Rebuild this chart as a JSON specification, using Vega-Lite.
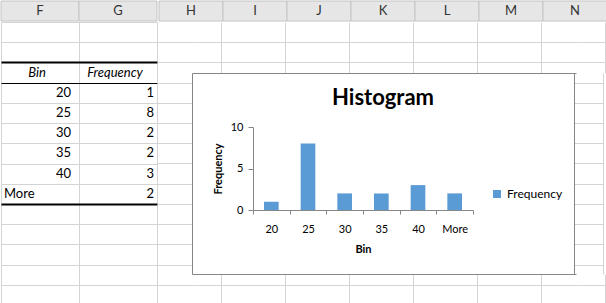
{
  "$schema": "https://vega.github.io/schema/vega-lite/v6.json",
  "padding": 0,
  "background": "white",
  "spacing": 0,
  "datasets": {
    "hist": [
      {"bin": "20", "frequency": 1},
      {"bin": "25", "frequency": 8},
      {"bin": "30", "frequency": 2},
      {"bin": "35", "frequency": 2},
      {"bin": "40", "frequency": 3},
      {"bin": "More", "frequency": 2}
    ],
    "colsLeft": [{"col": "F"}, {"col": "G"}],
    "colsRight": [{"col": "H"}, {"col": "I"}, {"col": "J"}, {"col": "K"}, {"col": "L"}, {"col": "M"}, {"col": "N"}],
    "blank": [{}]
  },
  "config": {"view": {"stroke": null}, "font": "Lato"},
  "vconcat": [
    {
      "spacing": 0,
      "hconcat": [
        {
          "width": 156, "height": 20,
          "data": {"name": "colsLeft"},
          "layer": [
            {"mark": {"type": "rect", "fill": "#e6e6e6", "stroke": "#c4c4c4", "strokeWidth": 1},
             "encoding": {"x": {"field": "col", "type": "nominal", "scale": {"paddingInner": 0, "paddingOuter": 0}, "axis": null}}},
            {"mark": {"type": "text", "fontSize": 13, "color": "#333333"},
             "encoding": {"x": {"field": "col", "type": "nominal", "axis": null}, "text": {"field": "col"}}}
          ]
        },
        {
          "width": 448, "height": 20,
          "data": {"name": "colsRight"},
          "layer": [
            {"mark": {"type": "rect", "fill": "#e6e6e6", "stroke": "#c4c4c4", "strokeWidth": 1},
             "encoding": {"x": {"field": "col", "type": "nominal", "sort": null, "scale": {"paddingInner": 0, "paddingOuter": 0}, "axis": null}}},
            {"mark": {"type": "text", "fontSize": 13, "color": "#333333"},
             "encoding": {"x": {"field": "col", "type": "nominal", "sort": null, "axis": null}, "text": {"field": "col"}}}
          ]
        }
      ]
    },
    {
      "spacing": 0,
      "hconcat": [
        {
          "width": 156, "height": 283,
          "data": {"name": "hist"},
          "encoding": {
            "y": {"field": "bin", "type": "nominal",
                  "scale": {"domain": ["r1", "r2", "hdr", "20", "25", "30", "35", "40", "More", "r10", "r11", "r12", "r13", "r14"], "paddingInner": 0, "paddingOuter": 0},
                  "axis": {"labels": false, "ticks": false, "domain": false, "title": null, "grid": true, "tickBand": "extent",
                           "gridColor": {"condition": {"test": "datum.value === 'r2' || datum.value === 'hdr' || datum.value === 'More'", "value": "black"}, "value": "#d4d4d4"},
                           "gridWidth": {"condition": {"test": "datum.value === 'r2' || datum.value === 'More'", "value": 2}, "value": 1}}}
          },
          "layer": [
            {"transform": [{"filter": "datum.bin !== 'More'"}],
             "mark": {"type": "text", "align": "right", "dx": -8, "fontSize": 13, "color": "black"},
             "encoding": {"x": {"datum": "F", "type": "nominal", "bandPosition": 1,
                                "scale": {"domain": ["F", "G"], "paddingInner": 0, "paddingOuter": 0},
                                "axis": {"labels": false, "ticks": false, "domain": false, "title": null, "grid": true, "tickBand": "extent", "gridColor": "#d4d4d4"}},
                          "text": {"field": "bin"}}},
            {"transform": [{"filter": "datum.bin === 'More'"}],
             "mark": {"type": "text", "align": "left", "dx": 3, "fontSize": 13, "color": "black"},
             "encoding": {"x": {"datum": "F", "type": "nominal", "bandPosition": 0,
                                "axis": {"labels": false, "ticks": false, "domain": false, "title": null, "grid": true, "tickBand": "extent", "gridColor": "#d4d4d4"}},
                          "text": {"field": "bin"}}},
            {"mark": {"type": "text", "align": "right", "dx": -3, "fontSize": 13, "color": "black"},
             "encoding": {"x": {"datum": "G", "type": "nominal", "bandPosition": 1,
                                "axis": {"labels": false, "ticks": false, "domain": false, "title": null, "grid": true, "tickBand": "extent", "gridColor": "#d4d4d4"}},
                          "text": {"field": "frequency"}}},
            {"transform": [{"aggregate": [{"op": "count", "as": "n"}]}],
             "mark": {"type": "text", "text": "Bin", "fontStyle": "italic", "fontSize": 13, "color": "black", "dx": -3},
             "encoding": {"x": {"datum": "F", "type": "nominal",
                                "axis": {"labels": false, "ticks": false, "domain": false, "title": null, "grid": true, "tickBand": "extent", "gridColor": "#d4d4d4"}},
                          "y": {"datum": "hdr", "type": "nominal"}}},
            {"transform": [{"aggregate": [{"op": "count", "as": "n"}]}],
             "mark": {"type": "text", "text": "Frequency", "fontStyle": "italic", "fontSize": 13, "color": "black", "dx": -3},
             "encoding": {"x": {"datum": "G", "type": "nominal",
                                "axis": {"labels": false, "ticks": false, "domain": false, "title": null, "grid": true, "tickBand": "extent", "gridColor": "#d4d4d4"}},
                          "y": {"datum": "hdr", "type": "nominal"}}}
          ]
        },
        {
          "spacing": 0,
          "vconcat": [
            {
              "spacing": 0,
              "hconcat": [
                {"width": 35, "height": 51, "data": {"name": "blank"}, "mark": {"type": "point", "size": 0, "opacity": 0},
                 "encoding": {
                   "x": {"datum": 0.3, "type": "quantitative", "scale": {"domain": [0, 0.547], "nice": false, "zero": false}, "axis": null},
                   "y": {"datum": 1.2, "type": "quantitative", "scale": {"domain": [0, 2.523], "nice": false, "zero": false, "reverse": true},
                         "axis": {"values": [1, 2], "grid": true, "gridColor": "#d4d4d4", "labels": false, "ticks": false, "domain": false, "title": null}}}},
                {"width": 384, "height": 51, "data": {"name": "blank"}, "mark": {"type": "point", "size": 0, "opacity": 0},
                 "encoding": {
                   "x": {"datum": 3, "type": "quantitative", "scale": {"domain": [0.547, 6.547], "nice": false, "zero": false},
                         "axis": {"orient": "bottom", "values": [1, 2, 3, 4, 5, 6], "grid": true, "gridColor": "#d4d4d4", "labels": false, "ticks": false, "domain": true, "domainColor": "#868686", "title": null}},
                   "y": {"datum": 1.2, "type": "quantitative", "scale": {"domain": [0, 2.523], "nice": false, "zero": false, "reverse": true},
                         "axis": {"values": [1, 2], "grid": true, "gridColor": "#d4d4d4", "labels": false, "ticks": false, "domain": false, "title": null}}}},
                {"width": 29, "height": 51, "data": {"name": "blank"}, "mark": {"type": "point", "size": 0, "opacity": 0},
                 "encoding": {
                   "x": {"datum": 6.8, "type": "quantitative", "scale": {"domain": [6.547, 7], "nice": false, "zero": false},
                         "axis": {"values": [7], "grid": true, "gridColor": "#d4d4d4", "labels": false, "ticks": false, "domain": false, "title": null}},
                   "y": {"datum": 1.2, "type": "quantitative", "scale": {"domain": [0, 2.523], "nice": false, "zero": false, "reverse": true},
                         "axis": {"values": [1, 2], "grid": true, "gridColor": "#d4d4d4", "labels": false, "ticks": false, "domain": false, "title": null}}}}
              ]
            },
            {
              "spacing": 11,
              "hconcat": [
                {"width": 35, "height": 201, "data": {"name": "blank"}, "mark": {"type": "point", "size": 0, "opacity": 0},
                 "encoding": {
                   "x": {"datum": 0.3, "type": "quantitative", "scale": {"domain": [0, 0.547], "nice": false, "zero": false}, "axis": null},
                   "y": {"datum": 7, "type": "quantitative", "scale": {"domain": [2.523, 12.467], "nice": false, "zero": false, "reverse": true},
                         "axis": {"orient": "right", "values": [3, 4, 5, 6, 7, 8, 9, 10, 11, 12], "grid": true, "gridColor": "#d4d4d4", "labels": false, "ticks": true, "tickSize": 9, "tickOpacity": 0, "domain": true, "domainColor": "#868686", "title": null}}}},
                {
                  "spacing": 0,
                  "resolve": {"scale": {"color": "independent"}, "legend": {"color": "independent"}},
                  "vconcat": [
                    {"width": 10, "height": 14, "data": {"name": "blank"}, "mark": {"type": "text", "text": ""}},
                    {
                      "width": 220, "height": 83,
                      "data": {"name": "hist"},
                      "title": {"text": "Histogram", "fontSize": 22, "fontWeight": "bold", "font": "Lato", "anchor": "middle", "frame": "group", "dx": 20, "offset": 11, "color": "black"},
                      "mark": {"type": "bar", "width": {"band": 0.4}},
                      "encoding": {
                        "x": {"field": "bin", "type": "nominal", "sort": null,
                              "scale": {"paddingInner": 0, "paddingOuter": 0},
                              "axis": {"title": "Bin", "labelAngle": 0, "tickBand": "extent", "tickSize": 4, "tickColor": "#868686", "domainColor": "#868686",
                                       "labelFontSize": 11, "labelColor": "black", "labelPadding": 9, "titleFontSize": 11, "titleFontWeight": "bold", "titleColor": "black", "titlePadding": 9}},
                        "y": {"field": "frequency", "type": "quantitative",
                              "scale": {"domain": [0, 10], "nice": false},
                              "axis": {"title": "Frequency", "values": [0, 5, 10], "grid": false, "tickSize": 5, "tickColor": "#868686", "domainColor": "#868686",
                                       "labelFontSize": 11, "labelColor": "black", "labelPadding": 5, "titleFontSize": 11, "titleFontWeight": "bold", "titleColor": "black", "titlePadding": 7}},
                        "color": {"datum": "Frequency", "type": "nominal", "scale": {"range": ["#5B9BD5"]},
                                  "legend": {"title": " ", "titleFontSize": 10, "titlePadding": 51, "symbolType": "square", "symbolSize": 64, "symbolStrokeWidth": 0, "labelFontSize": 12, "labelColor": "black", "offset": 18, "padding": 0}}
                      }
                    }
                  ]
                },
                {"width": 29, "height": 201, "data": {"name": "blank"}, "mark": {"type": "point", "size": 0, "opacity": 0},
                 "encoding": {
                   "x": {"datum": 6.8, "type": "quantitative", "scale": {"domain": [6.547, 7], "nice": false, "zero": false},
                         "axis": {"values": [7], "grid": true, "gridColor": "#d4d4d4", "labels": false, "ticks": false, "domain": false, "title": null}},
                   "y": {"datum": 7, "type": "quantitative", "scale": {"domain": [2.523, 12.467], "nice": false, "zero": false, "reverse": true},
                         "axis": {"orient": "left", "values": [3, 4, 5, 6, 7, 8, 9, 10, 11, 12], "grid": true, "gridColor": "#d4d4d4", "labels": false, "ticks": false, "domain": true, "domainColor": "#868686", "title": null}}}}
              ]
            },
            {
              "spacing": 0,
              "hconcat": [
                {"width": 35, "height": 31, "data": {"name": "blank"}, "mark": {"type": "point", "size": 0, "opacity": 0},
                 "encoding": {
                   "x": {"datum": 0.3, "type": "quantitative", "scale": {"domain": [0, 0.547], "nice": false, "zero": false}, "axis": null},
                   "y": {"datum": 13.2, "type": "quantitative", "scale": {"domain": [12.467, 14], "nice": false, "zero": false, "reverse": true},
                         "axis": {"values": [13], "grid": true, "gridColor": "#d4d4d4", "labels": false, "ticks": false, "domain": false, "title": null}}}},
                {"width": 384, "height": 31, "data": {"name": "blank"}, "mark": {"type": "point", "size": 0, "opacity": 0},
                 "encoding": {
                   "x": {"datum": 3, "type": "quantitative", "scale": {"domain": [0.547, 6.547], "nice": false, "zero": false},
                         "axis": {"orient": "top", "values": [1, 2, 3, 4, 5, 6], "grid": true, "gridColor": "#d4d4d4", "labels": false, "ticks": false, "domain": true, "domainColor": "#868686", "title": null}},
                   "y": {"datum": 13.2, "type": "quantitative", "scale": {"domain": [12.467, 14], "nice": false, "zero": false, "reverse": true},
                         "axis": {"values": [13], "grid": true, "gridColor": "#d4d4d4", "labels": false, "ticks": false, "domain": false, "title": null}}}},
                {"width": 29, "height": 31, "data": {"name": "blank"}, "mark": {"type": "point", "size": 0, "opacity": 0},
                 "encoding": {
                   "x": {"datum": 6.8, "type": "quantitative", "scale": {"domain": [6.547, 7], "nice": false, "zero": false},
                         "axis": {"values": [7], "grid": true, "gridColor": "#d4d4d4", "labels": false, "ticks": false, "domain": false, "title": null}},
                   "y": {"datum": 13.2, "type": "quantitative", "scale": {"domain": [12.467, 14], "nice": false, "zero": false, "reverse": true},
                         "axis": {"values": [13], "grid": true, "gridColor": "#d4d4d4", "labels": false, "ticks": false, "domain": false, "title": null}}}}
              ]
            }
          ]
        }
      ]
    }
  ]
}
